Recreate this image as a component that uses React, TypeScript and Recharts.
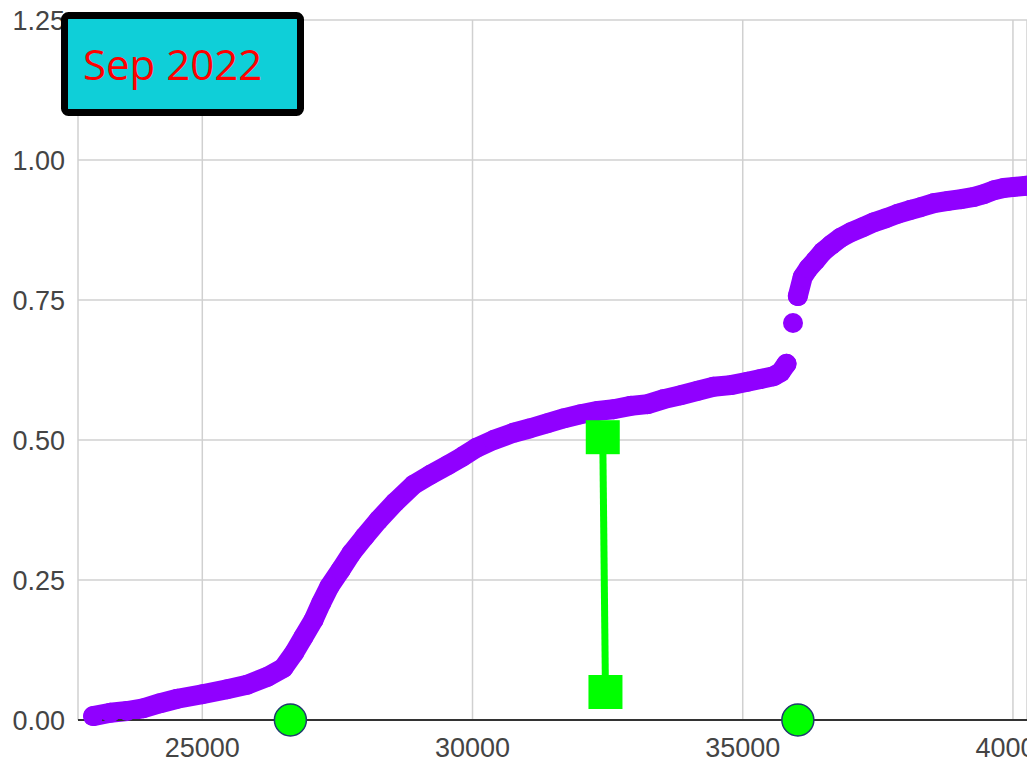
import React from 'react';
import {
  ComposedChart,
  Line,
  Scatter,
  XAxis,
  YAxis,
  CartesianGrid,
} from 'recharts';

// values: [x, y]
const lowerCurve: [number, number][] = [
  [22980, 0.007], [23300, 0.013], [23610, 0.016], [23910, 0.021], [24220, 0.03],
  [24540, 0.038], [25000, 0.046], [25460, 0.055], [25830, 0.063], [26200, 0.077],
  [26500, 0.093], [26700, 0.12], [26870, 0.148], [27060, 0.179], [27200, 0.209],
  [27350, 0.238], [27560, 0.268], [27760, 0.298], [28000, 0.327], [28260, 0.357],
  [28570, 0.389], [28910, 0.42], [29220, 0.438], [29540, 0.455], [29810, 0.47],
  [30070, 0.486], [30390, 0.5], [30760, 0.513], [31070, 0.521], [31390, 0.53],
  [31700, 0.539], [32000, 0.546], [32320, 0.552], [32610, 0.555], [32930, 0.561],
  [33240, 0.564], [33540, 0.573], [33850, 0.58], [34170, 0.588], [34460, 0.595],
  [34780, 0.598], [35090, 0.604], [35330, 0.609], [35570, 0.614], [35700, 0.621],
  [35810, 0.636],
];

const jumpPoints: [number, number][] = [[35930, 0.709]];

const upperCurve: [number, number][] = [
  [36020, 0.757], [36110, 0.791], [36220, 0.807], [36350, 0.821], [36480, 0.836],
  [36630, 0.848], [36810, 0.861], [37000, 0.871], [37220, 0.88], [37430, 0.889],
  [37650, 0.896], [37870, 0.904], [38110, 0.911], [38300, 0.916], [38540, 0.923],
  [38800, 0.927], [39040, 0.93], [39280, 0.934], [39460, 0.939], [39650, 0.946],
  [39830, 0.95], [40020, 0.952], [40250, 0.954],
];

const gapBar: [number, number][] = [[32410, 0.505], [32460, 0.05]];
const axisMarkers: [number, number][] = [[26630, 0], [36020, 0]];

const xTicks = [25000, 30000, 35000, 40000];
const yTicks = [0, 0.25, 0.5, 0.75, 1, 1.25];
const label = 'Sep 2022';

const toRows = (pts: [number, number][]) => pts.map(([x, y]) => ({ x, y }));

const PURPLE = '#9000ff';
const GREEN = '#00ff00';
const tickStyle = { fontFamily: '"Liberation Sans", Arial, sans-serif', fontSize: 27, fill: '#444' };

const PurpleDot = (props: any) => <circle cx={props.cx} cy={props.cy} r={10} fill={PURPLE} />;
const GreenSquare = (props: any) => (
  <rect x={props.cx - 17} y={props.cy - 17} width={34} height={34} fill={GREEN} />
);
const GreenCircle = (props: any) => (
  <circle cx={props.cx} cy={props.cy} r={16} fill={GREEN} stroke="#1f3a6e" strokeWidth={1.5} />
);

export default function App() {
  return (
    <div style={{ position: 'fixed', left: 0, top: 0, width: 1027, height: 767, overflow: 'hidden', background: '#fff' }}>
      <ComposedChart width={1027} height={767} margin={{ top: 20, right: 0, left: 0, bottom: 0 }}>
        <CartesianGrid stroke="#d0d0d0" strokeWidth={1.5} />
        <XAxis
          type="number"
          dataKey="x"
          domain={[22700, 40260]}
          allowDataOverflow
          ticks={xTicks}
          interval={0}
          height={47}
          tickLine={false}
          tickMargin={12}
          axisLine={{ stroke: '#333', strokeWidth: 2 }}
          tick={tickStyle}
        />
        <YAxis
          type="number"
          dataKey="y"
          domain={[0, 1.25]}
          ticks={yTicks}
          interval={0}
          width={78}
          axisLine={false}
          tickLine={false}
          tickMargin={7}
          tick={tickStyle}
          tickFormatter={(v: number) => v.toFixed(2)}
        />
        <Line
          data={toRows(lowerCurve)}
          dataKey="y"
          type="linear"
          stroke={PURPLE}
          strokeWidth={20}
          strokeLinecap="round"
          strokeLinejoin="round"
          dot={<PurpleDot />}
          isAnimationActive={false}
        />
        <Scatter data={toRows(jumpPoints)} dataKey="y" shape={<PurpleDot />} isAnimationActive={false} />
        <Line
          data={toRows(upperCurve)}
          dataKey="y"
          type="linear"
          stroke={PURPLE}
          strokeWidth={20}
          strokeLinecap="round"
          strokeLinejoin="round"
          dot={<PurpleDot />}
          isAnimationActive={false}
        />
        <Line
          data={toRows(gapBar)}
          dataKey="y"
          type="linear"
          stroke={GREEN}
          strokeWidth={7}
          dot={<GreenSquare />}
          isAnimationActive={false}
        />
        <Scatter data={toRows(axisMarkers)} dataKey="y" shape={<GreenCircle />} isAnimationActive={false} />
      </ComposedChart>
      <svg width={1027} height={767} style={{ position: 'absolute', left: 0, top: 0, pointerEvents: 'none' }}>
        <rect x={64.5} y={15.5} width={236} height={97} rx={4} fill="#0fcfd8" stroke="#000" strokeWidth={7} />
        <text x={83} y={80} fill="#ff0000" fontSize={42} fontFamily='"Open Sans", "Noto Sans", sans-serif'>
          {label}
        </text>
      </svg>
    </div>
  );
}
